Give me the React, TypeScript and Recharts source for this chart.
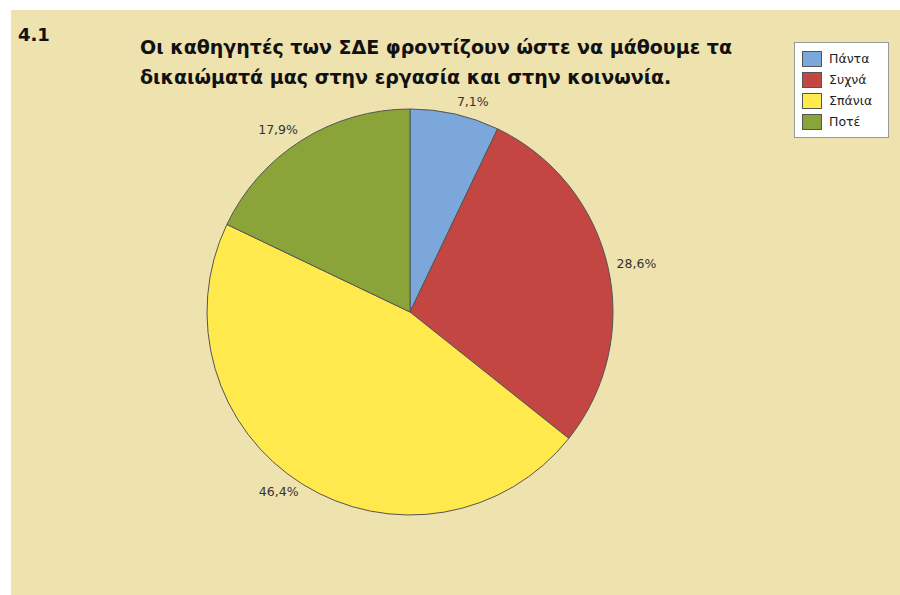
import { PieChart, Pie, Cell, Legend } from 'recharts'

const categories = ['Πάντα', 'Συχνά', 'Σπάνια', 'Ποτέ']
const percentages = [7.1, 28.6, 46.4, 17.9]
const colors = ['#7BA7DA', '#C44643', '#FFE94C', '#8AA43A']

const chartTitle = [
  'Οι καθηγητές των ΣΔΕ φροντίζουν ώστε να μάθουμε τα',
  'δικαιώματά μας στην εργασία και στην κοινωνία.',
]
const sectionLabel = '4.1'

const data = categories.map((name, i) => ({ name, value: percentages[i] }))

const RAD = Math.PI / 180

// labels sit just outside the rim, anchored at their inner end
function renderLabel(props: any) {
  const { cx, cy, midAngle, outerRadius, value } = props
  const r = outerRadius + 9
  const cos = Math.cos(-midAngle * RAD)
  const sin = Math.sin(-midAngle * RAD)
  const x = cx + r * cos + (cos >= 0 ? 0 : 1)
  const y = cy + r * sin + 4 * Math.min(sin, 0)
  return (
    <text
      x={x}
      y={y}
      fill="#333"
      fontSize={12.5}
      fontFamily="'DejaVu Sans', sans-serif"
      textAnchor={cos >= 0 ? 'start' : 'end'}
      dominantBaseline="central"
    >
      {value.toFixed(1).replace('.', ',')}%
    </text>
  )
}

function LegendBox() {
  return (
    <div
      style={{
        background: '#fff',
        border: '1px solid #999',
        padding: '5px 6px 5px 7px',
        width: 80,
        fontFamily: "'DejaVu Sans', sans-serif",
        fontSize: 12.5,
        color: '#222',
      }}
    >
      {categories.map((c, i) => (
        <div key={c} style={{ display: 'flex', alignItems: 'center', height: 21 }}>
          <span
            style={{
              width: 18,
              height: 14,
              background: colors[i],
              border: '1px solid #555',
              marginRight: 7,
              display: 'inline-block',
            }}
          />
          {c}
        </div>
      ))}
    </div>
  )
}

export default function App() {
  return (
    <div style={{ position: 'absolute', left: 11, top: 10, width: 889, height: 585, background: '#EEE2AF' }}>
      <div
        style={{
          position: 'absolute',
          left: 7,
          top: 14,
          fontFamily: "'DejaVu Sans', sans-serif",
          fontWeight: 'bold',
          fontSize: 18,
          color: '#111',
        }}
      >
        {sectionLabel}
      </div>
      <div
        style={{
          position: 'absolute',
          left: 129,
          top: 22,
          fontFamily: "'DejaVu Sans', sans-serif",
          fontWeight: 'bold',
          fontSize: 19,
          lineHeight: '30px',
          color: '#111',
          whiteSpace: 'nowrap',
          zIndex: 2,
        }}
      >
        {chartTitle.map((t) => (
          <div key={t}>{t}</div>
        ))}
      </div>
      <PieChart
        width={889}
        height={585}
        margin={{ top: 0, right: 0, bottom: 0, left: 0 }}
        style={{ position: 'absolute', left: 0, top: 0 }}
      >
        <Pie
          data={data}
          dataKey="value"
          nameKey="name"
          cx={399}
          cy={302}
          outerRadius={203}
          startAngle={90}
          endAngle={-270}
          stroke="#555"
          strokeWidth={1}
          label={renderLabel}
          labelLine={false}
          isAnimationActive={false}
        >
          {data.map((d, i) => (
            <Cell key={d.name} fill={colors[i]} />
          ))}
        </Pie>
        <Legend
          content={<LegendBox />}
          layout="vertical"
          verticalAlign="top"
          align="right"
          wrapperStyle={{ position: 'absolute', left: 783, top: 32, width: 95 }}
        />
      </PieChart>
    </div>
  )
}
